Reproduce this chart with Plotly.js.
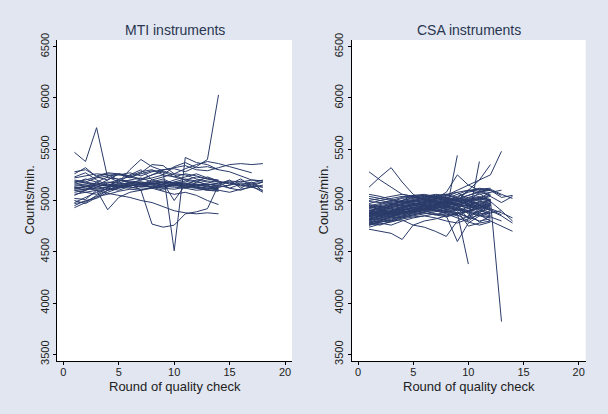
<!DOCTYPE html>
<html>
<head>
<meta charset="utf-8">
<script src="https://cdn.plot.ly/plotly-3.0.1.min.js"></script>
<style>html,body{margin:0;padding:0;background:#e1e6f0;}</style>
</head>
<body>
<div id="chart" style="width:608px;height:414px;"></div>
<script>
// Panel titles and axis labels
const panelTitles = ["MTI instruments", "CSA instruments"];
const xTitle = "Round of quality check";
const yTitle = "Counts/min.";
const xTicks = [0, 5, 10, 15, 20];
const yTicks = [3500, 4000, 4500, 5000, 5500, 6000, 6500];
const yGrid = [4000, 4500, 5000, 5500, 6000];

// MTI instruments: counts/min by round (round 1..n)
const mtiCounts = [
  [5140,5150,5130,5160,5150,5140,5160,5170,5150,5160,5140,5130,5120,5110],
  [5120,5130,5150,5140,5160,5170,5150,5160,5170,5150,5160,5140,5120,5100],
  [5100,5110,5120,5130,5140,5150,5160,5180,5190,5170,5160,5130,5110,5120],
  [5150,5160,5170,5150,5140,5160,5180,5170,5150,5140,5150,5160,5130,5120],
  [5080,5100,5130,5170,5200,5190,5180,5160,5140,5150,5130,5120,5100,5090],
  [5130,5120,5100,5110,5130,5150,5140,5130,5160,5180,5170,5150,5140,5130],
  [5160,5180,5160,5140,5130,5120,5140,5160,5180,5170,5150,5120,5100,5100],
  [5110,5140,5160,5180,5170,5150,5130,5140,5120,5110,5130,5150,5160,5140],
  [4930,4980,5050,5100,5130,5150,5140,5170,5180,5160,5170,5150,5140,5130,5150,5170,5160,5180],
  [4950,5000,5020,5080,5120,5140,5160,5150,5130,5170,5190,5160,5150,5170,5190,5180,5200,5190],
  [4970,4990,5040,5060,5090,5110,5100,5130,5120,5150,5130,5140,5160,5150,5120,5100,5140,5130],
  [5000,4970,5030,5100,5150,5170,5200,5220,5250,5230,5200,5180,5160,5140],
  [5470,5380,5710,5220,5210,5230,5200,5250,5280,5230,5260,5240,5210,5200],
  [5260,5320,5230,5200,5260,5240,5210,5250,5300,5310,5280,5330,5400,6030],
  [5200,5180,5220,5240,5250,5230,5260,5290,5280,4510,5420,5370,5350,5300],
  [5220,5240,5260,5250,5200,5170,5100,4770,4740,4760,4870,4890,4920,5150,5180,5140,5160,5130],
  [5060,5080,5100,5070,5050,5030,5000,4980,4940,4900,4880,4870,4880,4870],
  [5020,5010,5100,4910,5030,5080,5100,5120,5090,5060,5080,5050,5000,4960],
  [5230,5270,5200,5150,5180,5300,5400,5330,5290,5250,5200,5230,5210,5190],
  [5280,5300,5240,5270,5260,5220,5270,5350,5340,5260,5310,5350,5380,5360,5330,5300,5270],
  [5180,5200,5230,5260,5250,5270,5240,5280,5300,5320,5340,5300,5290,5320,5350,5360,5350,5360],
  [5050,5100,5150,5200,5260,5240,5280,5300,5250,5330,5370,5320,5330,5300,5280,5240,5200,5190],
  [5130,5100,5180,5230,5180,5250,5300,5200,5170,5000,5150,5200,5180,5160,5200,5120,5180,5090],
  [5100,5080,5060,5120,5170,5200,5220,5180,5210,5160,5120,5180,5230,5190,5160,5210,5140,5180],
  [5170,5210,5180,5140,5200,5180,5160,5200,5230,5260,5250,5210,5190,5180,5170,5150,5130,5100],
  [4980,5030,5080,5120,5100,5140,5170,5120,5160,5200,5230,5260,5220,5180,5120,5160,5140,5080],
  [5120,5140,5110,5130,5150,5130,5110,5120,5140,5130,5120,5100,5110,5130,5150,5190,5170,5200],
  [5190,5170,5140,5100,5120,5180,5170,5130,5100,5180,5210,5190,5150,5100,5080,5110,5130,5150]
];

// CSA instruments: counts/min by round (round 1..n)
const csaCounts = [
  [5280,5200,5130,5060,5040,5020,5000,4980,4960,4950,4980,5000],
  [4720,4700,4680,4620,4760,4800,4820,4850,4870,4900,4920,4950],
  [5130,5230,5320,5180,5060,5000,4980,4950,4970,5000,5020,5010],
  [4850,4880,4900,4920,4950,4960,4940,4980,4970,5000,5010,5000,3820],
  [4900,4920,4880,4910,4930,4950,4920,4900,4880,4380],
  [4860,4840,4880,4920,4900,4950,4930,4890,5440],
  [4950,4930,4960,4990,5000,4980,5020,5050,5100,5150,5200,5250,5480],
  [4880,4900,4930,4950,4970,4990,4980,5000,4950,4820,5380],
  [4800,4830,4850,4880,4900,4920,4950,4980,5000,5100,5200,5350],
  [4770,4790,4800,4810,4760,4740,4700,4650,4800,4850,4900,4870],
  [4830,4850,4880,4900,4920,4900,4870,4850,4600,4780,4850,4900],
  [4900,4920,4950,4970,4990,5010,5000,4980,5020,5050,5080,5100,5030,5050],
  [4820,4840,4860,4890,4900,4920,4950,4930,4900,4920,4950,4900,4850,4780],
  [4880,4860,4890,4910,4930,4960,4980,4950,4920,4890,4860,4800,4750,4700],
  [4900,4920,4940,4960,4980,5000,5020,5080,5250,5150,5100,5050],
  [4850,4900,4950,5000,5050,5060,5040,5020,5000,5100,5110,5120],
  [4950,4970,5000,5030,5050,5040,5060,5050,5020,4990,4970,4950],
  [4780,4800,4830,4850,4870,4890,4900,4880,4910,4940,4960,4990],
  [4760,4790,4820,4840,4860,4880,4860,4890,4920,4900,4870,4880],
  [4990,4980,4970,4990,5010,5030,5020,5000,5040,5080,5110,5100,5050],
  [4870,4890,4910,4930,4950,4970,4990,5010,5000,4970,4940,4960],
  [4810,4830,4860,4880,4900,4930,4950,4970,4990,5010,5030,5010],
  [4920,4940,4960,4980,5000,5020,5040,5060,5080,5100,5090,5110],
  [4740,4770,4790,4820,4840,4850,4870,4860,4880,4840,4800,4820],
  [4890,4860,4840,4830,4850,4870,4890,4910,4930,4960,4990,4970],
  [5020,5000,4980,5000,5020,5040,5030,5010,4990,5010,5030,5050],
  [4840,4860,4900,4940,4960,4980,4960,4940,4910,4880,4850,4830],
  [4910,4890,4870,4900,4930,4920,4900,4930,4960,4990,5020,4990],
  [4780,4810,4840,4860,4880,4900,4920,4940,4900,4750,4780,4800],
  [4960,4940,4920,4940,4960,4990,5010,5030,4990,4960,4930,4910],
  [4850,4820,4800,4830,4860,4890,4920,4950,4970,4920,4880,4850],
  [4930,4950,4970,4950,4930,4950,4970,4990,5010,5030,5060,5080,5100],
  [4800,4790,4810,4850,4900,4880,4860,4840,4870,4900,4930,4950],
  [5000,5020,5040,5060,5040,5010,4990,4970,4950,4930,4950,4970],
  [4880,4910,4940,4970,5000,5030,5050,5030,5010,5050,5090,5040,4980,5040],
  [4760,4780,4760,4800,4830,4850,4830,4800,4780,4820,4860,4840,4800],
  [4950,4900,4870,4890,4910,4940,4960,4930,4950,4990,4960,4930],
  [5060,5040,5010,4990,4970,4950,4930,4960,4990,5020,5040,5000],
  [4820,4850,4880,4910,4930,4950,4970,5000,5030,5090,5120,5100],
  [4900,4880,4860,4880,4910,4940,4910,4880,4850,4900,4950,4920,4880,4830],
  [4870,4900,4930,4960,4990,5010,5030,5000,4970,4940,4990,5060],
  [4790,4820,4850,4870,4890,4910,4930,4950,4920,4890,4930,4980],
  [4930,4960,4990,5020,5040,5050,5030,4990,4940,4990,5080,5110,5060,5020],
  [4820,4810,4840,4880,4910,4930,4910,4890,4870,4950,4910,4860],
  [4850,4880,4900,4930,4960,4990,5010,5040,5080,5000,4960,5010],
  [4900,4930,4960,5000,5030,5050,5040,5020,5060,5100,5070,4990,4900,4800],
  [4760,4800,4840,4870,4900,4920,4940,4920,4880,4830,4900,4960],
  [4970,5000,5020,5040,5030,5010,4980,4950,4980,5030,5000,4950],
  [4840,4870,4890,4910,4920,4940,4960,4980,4950,4870,4790,4850],
  [4880,4850,4870,4900,4940,4970,4990,4960,4930,4970,5010,5040],
  [4810,4850,4890,4920,4950,4980,5000,5020,5000,4960,4920,4880,4900],
  [4940,4910,4880,4870,4890,4920,4950,4980,5010,4950,4890,4920],
  [4900,4870,4900,4940,4970,4960,4940,4910,4860,4800,4880,4950],
  [5040,5020,5000,4980,4990,5010,5040,5060,5030,4980,5020,5080],
  [4780,4760,4800,4840,4880,4910,4900,4870,4830,4790,4760,4790],
  [4860,4890,4920,4900,4880,4910,4950,4990,5020,4990,4950,4910,4860]
];

const lineColor = "#2a3b6a";
const font = "Liberation Sans, Arial, sans-serif";
const textColor = "#222";

function makeTraces(series, xa, ya) {
  return series.map(vals => ({
    type: "scatter", mode: "lines",
    x: vals.map((v, i) => i + 1), y: vals,
    xaxis: xa, yaxis: ya,
    line: {color: lineColor, width: 1},
    hoverinfo: "skip", showlegend: false
  }));
}

const data = [].concat(makeTraces(mtiCounts, "x", "y"), makeTraces(csaCounts, "x2", "y2"));

const yRange = [3435, 6565];
const xRange = [-0.57, 20.63];
const yDom = [0.128, 0.9034];
const xDom1 = [0.0938, 0.4803];
const xDom2 = [0.5785, 0.9633];

function xAxis(domain, anchor) {
  return {
    domain: domain, anchor: anchor, range: xRange,
    tickvals: xTicks, ticks: "outside", ticklen: 3, tickcolor: "#000",
    ticklabelstandoff: -2,
    showline: true, linecolor: "#000", linewidth: 1, showgrid: false, zeroline: false,
    tickfont: {family: font, size: 11, color: textColor}
  };
}
function yAxis(anchor) {
  return {
    domain: yDom, anchor: anchor, range: yRange,
    tickvals: yTicks, tickangle: -90, ticks: "outside", ticklen: 3, tickcolor: "#000",
    showline: true, linecolor: "#000", linewidth: 1, showgrid: false, zeroline: false,
    tickfont: {family: font, size: 11, color: textColor}
  };
}
function gridAxis(overlay, anchor) {
  return {
    overlaying: overlay, anchor: anchor, range: yRange, domain: yDom,
    tickvals: yGrid, showticklabels: false, ticks: "",
    showgrid: true, gridcolor: "#dcdcdc", gridwidth: 1,
    showline: false, zeroline: false
  };
}

const yMid = (yDom[0] + yDom[1]) / 2;
function ann(text, x, y, angle, size, color) {
  return {text: text, xref: "paper", yref: "paper", x: x, y: y, textangle: angle,
          showarrow: false, xanchor: "center", yanchor: "middle", borderpad: 0,
          font: {family: font, size: size, color: color}};
}

const layout = {
  width: 608, height: 414, autosize: false,
  margin: {l: 0, r: 0, t: 0, b: 0},
  paper_bgcolor: "#e1e6f0", plot_bgcolor: "#ffffff",
  xaxis: xAxis(xDom1, "y"),
  yaxis: yAxis("x"),
  xaxis2: xAxis(xDom2, "y2"),
  yaxis2: yAxis("x2"),
  yaxis3: gridAxis("y", "x"),
  yaxis4: gridAxis("y2", "x2"),
  annotations: [
    ann(panelTitles[0], (xDom1[0] + xDom1[1]) / 2, 0.9275, 0, 14, "#2a3550"),
    ann(panelTitles[1], (xDom2[0] + xDom2[1]) / 2, 0.9275, 0, 14, "#2a3550"),
    ann(xTitle, (xDom1[0] + xDom1[1]) / 2, 0.066, 0, 13, textColor),
    ann(xTitle, (xDom2[0] + xDom2[1]) / 2, 0.066, 0, 13, textColor),
    ann(yTitle, 30 / 608, yMid, -90, 13, textColor),
    ann(yTitle, 324 / 608, yMid, -90, 13, textColor)
  ]
};

Plotly.newPlot("chart", data, layout, {displayModeBar: false, staticPlot: true});
</script>
</body>
</html>
